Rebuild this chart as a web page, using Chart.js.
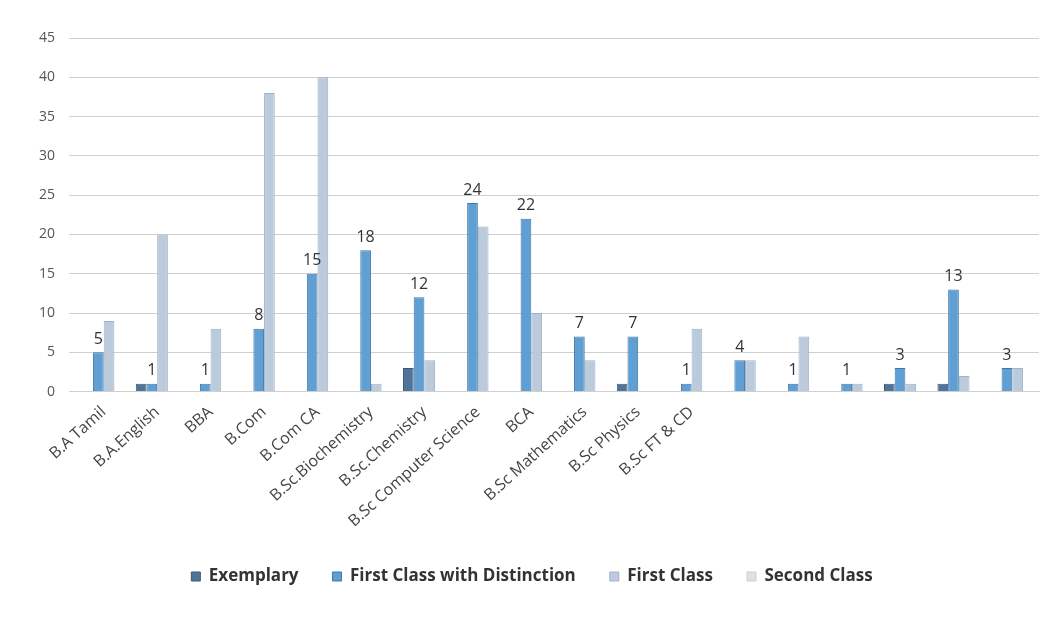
<!DOCTYPE html>
<html>
<head>
<meta charset="utf-8">
<script src="https://cdn.jsdelivr.net/npm/chart.js@4/dist/chart.umd.min.js"></script>
<style>
  body { margin: 0; background: #fff; }
  #wrap { width: 1049px; height: 629px; }
</style>
</head>
<body>
<div id="wrap"><canvas id="resultChart"></canvas></div>
<script>
// programmes (last six names are cut off in the source)
const courses = [
  'B.A Tamil', 'B.A.English', 'BBA', 'B.Com', 'B.Com CA', 'B.Sc.Biochemistry',
  'B.Sc.Chemistry', 'B.Sc Computer Science', 'BCA', 'B.Sc Mathematics',
  'B.Sc Physics', 'B.Sc FT & CD', '', '', '', '', '', ''
];

const exemplary    = [0, 1, 0, 0, 0, 0, 3, 0, 0, 0, 1, 0, 0, 0, 0, 1, 1, 0];
const distinction  = [5, 1, 1, 8, 15, 18, 12, 24, 22, 7, 7, 1, 4, 1, 1, 3, 13, 3];
const firstClass   = [9, 20, 8, 38, 40, 1, 4, 21, 10, 4, 0, 8, 4, 7, 1, 1, 2, 3];
const secondClass  = [0, 0, 0, 0, 0, 0, 0, 0, 0, 0, 0, 0, 0, 0, 0, 0, 0, 0];

const yTicks = [0, 5, 10, 15, 20, 25, 30, 35, 40, 45];

// value labels above the distinction bars
const valueLabels = {
  id: 'valueLabels',
  afterDatasetsDraw(chart) {
    const ctx = chart.ctx;
    const meta = chart.getDatasetMeta(1);
    ctx.save();
    ctx.font = '16px "Open Sans", sans-serif';
    ctx.fillStyle = '#333';
    ctx.textAlign = 'center';
    ctx.textBaseline = 'bottom';
    meta.data.forEach((bar, i) => {
      ctx.fillText(distinction[i], bar.x, bar.y - 5);
    });
    ctx.restore();
  }
};

const ctx = document.getElementById('resultChart').getContext('2d');
new Chart(ctx, {
  type: 'bar',
  data: {
    labels: courses,
    datasets: [
      { label: 'Exemplary', data: exemplary, backgroundColor: '#4f7498', borderColor: '#3a5a78', borderWidth: 1 },
      { label: 'First Class with Distinction', data: distinction, backgroundColor: '#5f9fd3', borderColor: '#3f77a8', borderWidth: 1 },
      { label: 'First Class', data: firstClass, backgroundColor: '#bccbdc', borderColor: '#9fb2c8', borderWidth: 1 },
      { label: 'Second Class', data: secondClass, backgroundColor: '#dde2e8', borderColor: '#c8d0da', borderWidth: 1 }
    ]
  },
  options: {
    responsive: true,
    maintainAspectRatio: false,
    animation: false,
    layout: { padding: { left: 25, right: 10, top: 38, bottom: 34 } },
    datasets: { bar: { categoryPercentage: 0.8, barPercentage: 1.0 } },
    plugins: {
      legend: {
        position: 'bottom',
        labels: {
          boxWidth: 9,
          boxHeight: 9,
          padding: 34,
          color: '#333',
          font: { family: '"Open Sans", sans-serif', size: 17, weight: 'bold' }
        }
      },
      tooltip: { enabled: false }
    },
    scales: {
      x: {
        grid: { display: false },
        border: { color: '#cfcfcf' },
        ticks: {
          autoSkip: false,
          minRotation: 42,
          maxRotation: 42,
          color: '#444',
          font: { family: '"Open Sans", sans-serif', size: 16 }
        }
      },
      y: {
        min: 0,
        max: 45,
        afterBuildTicks: (axis) => { axis.ticks = yTicks.map((v) => ({ value: v })); },
        grid: { color: '#cfcfcf' },
        border: { display: false },
        ticks: {
          padding: 14,
          color: '#555',
          font: { family: '"Open Sans", sans-serif', size: 14 }
        }
      }
    }
  },
  plugins: [valueLabels]
});
</script>
</body>
</html>
